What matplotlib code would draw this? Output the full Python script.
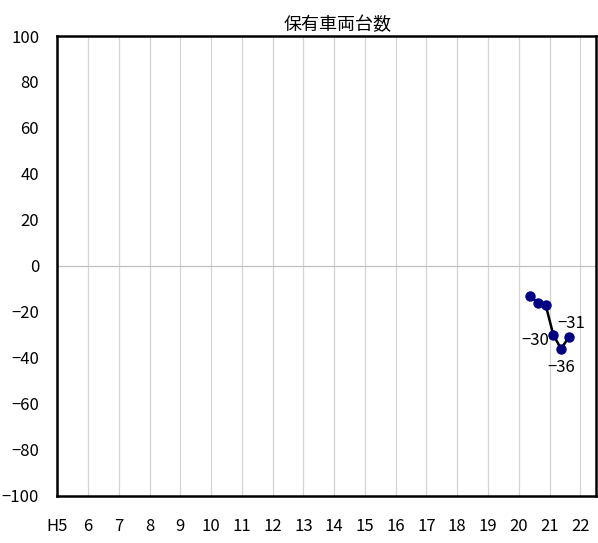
import matplotlib
matplotlib.use("Agg")
import matplotlib.pyplot as plt

plt.rcParams['font.family'] = ['Noto Sans CJK JP', 'DejaVu Sans']

# 四半期ごとの値 (年度位置は四半期の中央)
quarters = [20.375, 20.625, 20.875, 21.125, 21.375, 21.625]
values = [-13, -16, -17, -30, -36, -31]

year_ticks = list(range(5, 23))
year_labels = ["H5"] + [str(y) for y in range(6, 23)]

# ラベルを付ける点: (index, dx, dy, ha, va)
label_points = [
    (3, -3, -4, "right", "center"),
    (4, 0, -7, "center", "top"),
    (5, -8, 4, "left", "bottom"),
]

fig = plt.figure(figsize=(5.98, 5.43), dpi=100)
ax = fig.add_axes([0.0958, 0.0866, 0.9003, 0.8471])

ax.set_xlim(5, 22.5)
ax.set_ylim(-100, 100)

for x in year_ticks[1:]:
    ax.axvline(x, color="#d4d4d4", lw=0.9, zorder=0)
ax.axhline(0, color="#c0c0c0", lw=0.9, zorder=0)

ax.plot(quarters, values, color="black", lw=1.8, zorder=2)
ax.plot(quarters, values, "o", color="#000080", ms=6.5, zorder=3)

for i, dx, dy, ha, va in label_points:
    ax.annotate(str(values[i]).replace("-", "\u2212"), (quarters[i], values[i]),
                xytext=(dx, dy), textcoords="offset points",
                ha=ha, va=va, fontsize=12)

ax.set_xticks(year_ticks)
ax.set_xticklabels(year_labels, fontsize=12)
ax.set_yticks(range(-100, 101, 20))
ax.tick_params(length=0, pad=16, axis="x")
ax.tick_params(length=0, pad=13, axis="y", labelsize=12)

for s in ax.spines.values():
    s.set_linewidth(1.8)
    s.set_color("black")

ax.set_title("保有車両台数", fontsize=13, pad=4, x=0.521)

fig.savefig("out.png", dpi=100)
